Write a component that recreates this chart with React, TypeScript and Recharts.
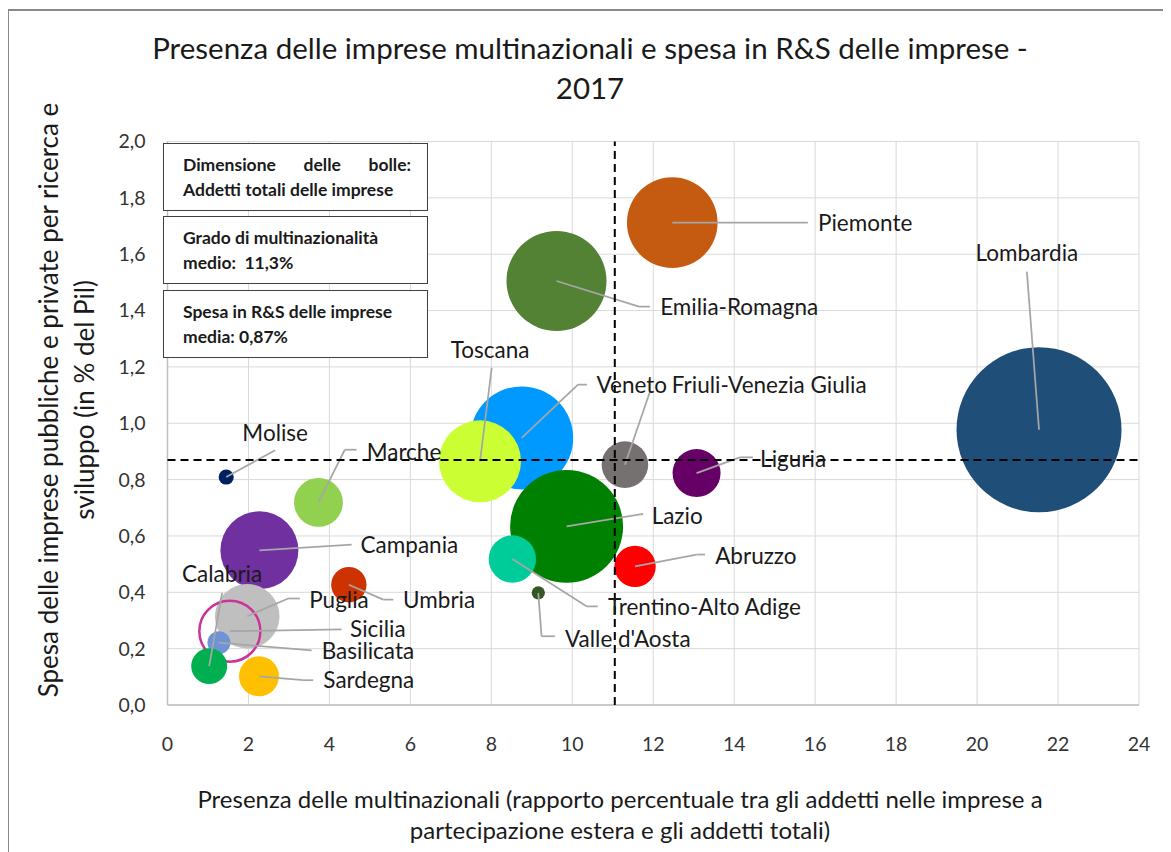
import React from 'react'
import {
  ScatterChart,
  Scatter,
  XAxis,
  YAxis,
  ZAxis,
  CartesianGrid,
  ReferenceLine,
} from 'recharts'

// regioni, nell'ordine in cui le bolle si sovrappongono
const regioni = [
  'Lombardia', 'Piemonte', 'Emilia-Romagna', 'Veneto', 'Toscana', 'Lazio',
  'Trentino-Alto Adige', 'Friuli-Venezia Giulia', 'Liguria', 'Abruzzo',
  "Valle d'Aosta", 'Marche', 'Molise', 'Umbria', 'Campania', 'Puglia',
  'Sicilia', 'Basilicata', 'Calabria', 'Sardegna',
]
// presenza multinazionali (%)
const multinazionali = [
  21.53, 12.47, 9.61, 8.75, 7.72, 9.86, 8.52, 11.3, 13.07, 11.55,
  9.16, 3.73, 1.45, 4.48, 2.27, 1.97, 1.54, 1.27, 1.03, 2.26,
]
// spesa R&S (% del Pil)
const spesaRS = [
  0.977, 1.712, 1.505, 0.948, 0.865, 0.634, 0.518, 0.853, 0.823, 0.492,
  0.398, 0.719, 0.809, 0.427, 0.549, 0.315, 0.262, 0.221, 0.138, 0.102,
]
// addetti totali (migliaia)
const addetti = [
  3700, 1116, 1359, 1442, 914, 1735, 305, 295, 313, 233,
  24, 324, 31, 170, 827, 567, 506, 72, 176, 217,
]
const colori = [
  '#1f4e79', '#c55a11', '#548235', '#0099ff', '#ccff33', '#008000',
  '#00cc99', '#767171', '#660066', '#ff0000', '#375623', '#92d050',
  '#002060', '#cc3300', '#7030a0', '#bfbfbf', '#cc3399', '#6f94d6',
  '#00b050', '#ffc000',
]
// posizione delle etichette (coordinate dei dati)
const etichetteX = [
  21.23, 16.07, 12.17, 10.6, 7.97, 11.96, 10.88, 12.46, 14.64, 13.53,
  9.82, 4.92, 2.66, 5.82, 4.77, 3.5, 4.51, 3.81, 1.35, 3.85,
]
const etichetteY = [
  1.605, 1.711, 1.413, 1.137, 1.261, 0.672, 0.349, 1.137, 0.874, 0.53,
  0.235, 0.899, 0.966, 0.371, 0.566, 0.374, 0.268, 0.19, 0.463, 0.087,
]
const centrate = ['Lombardia', 'Toscana', 'Molise', 'Calabria']
// punti delle linee di richiamo, dopo il centro della bolla
const richiami: [number, number][][] = [
  [[21.23, 1.538]],
  [[15.82, 1.712]],
  [[11.65, 1.414], [11.92, 1.414]],
  [[10.14, 1.137], [10.36, 1.137]],
  [[8.01, 1.197]],
  [[11.75, 0.678]],
  [[10.36, 0.35], [10.63, 0.35]],
  [[11.92, 1.113]],
  [[14.14, 0.879], [14.46, 0.879]],
  [[13.07, 0.534], [13.28, 0.534]],
  [[9.24, 0.244], [9.57, 0.244]],
  [[4.38, 0.906], [4.67, 0.906]],
  [[2.66, 0.904]],
  [[5.33, 0.374], [5.58, 0.374]],
  [[4.55, 0.569]],
  [[2.98, 0.378], [3.27, 0.378]],
  [[4.3, 0.268]],
  [[3.56, 0.194]],
  [[1.35, 0.398]],
  [[3.35, 0.088], [3.6, 0.088]],
]

const mediaMultinazionali = 11.05
const mediaSpesa = 0.87

const xTicks = [0, 2, 4, 6, 8, 10, 12, 14, 16, 18, 20, 22, 24]
const yTicks = [0, 0.2, 0.4, 0.6, 0.8, 1.0, 1.2, 1.4, 1.6, 1.8, 2.0]

const bolle = regioni.map((name, i) => ({
  name,
  x: multinazionali[i],
  y: spesaRS[i],
  z: addetti[i],
  color: colori[i],
}))

const etichette = regioni.map((name, i) => ({
  name,
  x: etichetteX[i],
  y: etichetteY[i],
  anchor: centrate.includes(name) ? 'middle' : 'start',
}))

const segmenti = regioni.flatMap((name, i) => {
  const pts = [[multinazionali[i], spesaRS[i]], ...richiami[i]]
  return pts.slice(1).map((p, k) => ({
    key: `${name}-${k}`,
    seg: [
      { x: pts[k][0], y: pts[k][1] },
      { x: p[0], y: p[1] },
    ],
  }))
})

const FONT = 'Lato, "Open Sans", sans-serif'

function Bubble(props: any) {
  const { cx, cy, size, payload } = props
  const r = Math.sqrt((size || 0) / Math.PI)
  if (payload.name === 'Sicilia') {
    return <circle cx={cx} cy={cy} r={r} fill="none" stroke={payload.color} strokeWidth={2.5} />
  }
  return <circle cx={cx} cy={cy} r={r} fill={payload.color} />
}

function LabelText(props: any) {
  const { cx, cy, payload } = props
  return (
    <text
      x={cx}
      y={cy}
      dy="0.35em"
      textAnchor={payload.anchor}
      fontSize={22.5}
      fontFamily={FONT}
      fill="#1a1a1a"
    >
      {payload.name}
    </text>
  )
}

function InfoBox({ top, height, lines, justifyFirst }: {
  top: number
  height: number
  lines: string[]
  justifyFirst?: boolean
}) {
  return (
    <div
      style={{
        position: 'absolute',
        left: 155,
        top,
        width: 265,
        height,
        boxSizing: 'border-box',
        border: '1px solid #404040',
        background: '#fff',
        padding: '8px 16px 0 19px',
        fontFamily: FONT,
        fontWeight: 700,
        fontSize: 17.5,
        lineHeight: '25px',
        color: '#1a1a1a',
      }}
    >
      {lines.map((l, i) => (
        <div
          key={i}
          style={{
            whiteSpace: 'pre',
            textAlign: justifyFirst && i === 0 ? 'justify' : 'left',
            textAlignLast: justifyFirst && i === 0 ? 'justify' : 'left',
          }}
        >
          {l}
        </div>
      ))}
    </div>
  )
}

export default function App() {
  return (
    <div style={{ position: 'relative', width: 1163, height: 844, overflow: 'hidden', fontFamily: FONT }}>
      <div style={{ position: 'absolute', left: 0, top: 1, width: 1163, height: 2, background: '#898989' }} />
      <div style={{ position: 'absolute', left: 0, top: 1, width: 1, height: 843, background: '#898989' }} />

      <div
        style={{
          position: 'absolute',
          left: 0,
          top: 20,
          width: 1164,
          textAlign: 'center',
          fontSize: 29.5,
          lineHeight: '40px',
          color: '#1a1a1a',
        }}
      >
        Presenza delle imprese multinazionali e spesa in R&amp;S delle imprese -
        <br />
        2017
      </div>

      <ScatterChart
        width={1163}
        height={844}
        margin={{ top: 133.5, right: 32, bottom: 107, left: 99.5 }}
      >
        <CartesianGrid stroke="#d9d9d9" strokeWidth={1} />
        <XAxis
          type="number"
          dataKey="x"
          domain={[0, 24]}
          ticks={xTicks}
          interval={0}
          tickLine={false}
          tickMargin={26}
          height={40}
          axisLine={{ stroke: '#bfbfbf', strokeWidth: 1.5 }}
          tick={{ fontSize: 19.5, fill: '#333', fontFamily: FONT }}
        />
        <YAxis
          type="number"
          dataKey="y"
          domain={[0, 2]}
          ticks={yTicks}
          interval={0}
          width={60}
          tickLine={false}
          tickMargin={16}
          axisLine={{ stroke: '#bfbfbf', strokeWidth: 1.5 }}
          tick={{ fontSize: 19.5, fill: '#333', fontFamily: FONT }}
          tickFormatter={(v: number) => v.toFixed(1).replace('.', ',')}
        />
        <ZAxis type="number" dataKey="z" domain={[0, 3700]} range={[0, Math.PI * 82.5 * 82.5]} />
        <Scatter data={bolle} shape={Bubble} isAnimationActive={false} />
        {segmenti.map((s) => (
          <ReferenceLine
            key={s.key}
            segment={s.seg}
            stroke="#a6a6a6"
            strokeWidth={1.75}
            ifOverflow="visible"
            zIndex={700}
          />
        ))}
        <ReferenceLine
          y={mediaSpesa}
          stroke="#000"
          strokeWidth={2}
          strokeDasharray="8 5"
          zIndex={700}
        />
        <ReferenceLine
          x={mediaMultinazionali}
          stroke="#000"
          strokeWidth={2}
          strokeDasharray="8 5"
          zIndex={700}
        />
        <Scatter data={etichette} shape={LabelText} isAnimationActive={false} zIndex={800} />
      </ScatterChart>

      <InfoBox
        top={135.3}
        height={68}
        lines={['Dimensione delle bolle:', 'Addetti totali delle imprese']}
        justifyFirst
      />
      <InfoBox top={207.7} height={68.3} lines={['Grado di multinazionalità', 'medio:  11,3%']} />
      <InfoBox top={282} height={68} lines={['Spesa in R&S delle imprese', 'media: 0,87%']} />

      <div
        style={{
          position: 'absolute',
          left: 58,
          top: 392,
          width: 0,
          height: 0,
        }}
      >
        <div
          style={{
            position: 'absolute',
            left: -400,
            top: -36,
            width: 800,
            textAlign: 'center',
            fontSize: 26,
            lineHeight: '36px',
            color: '#1a1a1a',
            transform: 'rotate(-90deg)',
            transformOrigin: '400px 36px',
          }}
        >
          Spesa delle imprese pubbliche e private per ricerca e
          <br />
          sviluppo (in % del Pil)
        </div>
      </div>

      <div
        style={{
          position: 'absolute',
          left: 12,
          top: 775,
          width: 1200,
          textAlign: 'center',
          fontSize: 24,
          lineHeight: '31px',
          color: '#1a1a1a',
        }}
      >
        Presenza delle multinazionali (rapporto percentuale tra gli addetti nelle imprese a
        <br />
        partecipazione estera e gli addetti totali)
      </div>
    </div>
  )
}
